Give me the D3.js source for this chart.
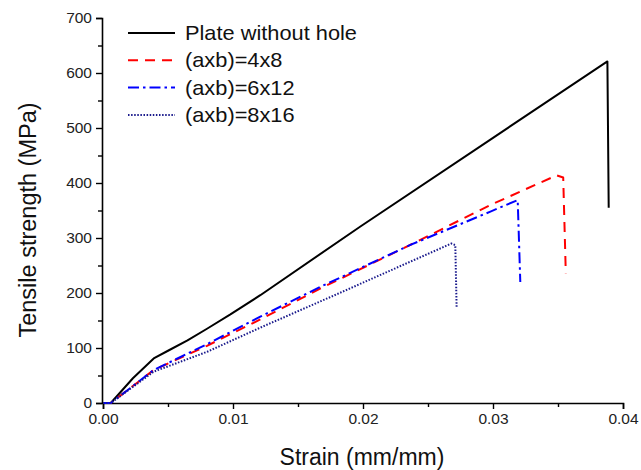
<!DOCTYPE html>
<html><head><meta charset="utf-8">
<script src="https://cdn.jsdelivr.net/npm/d3@7"></script>
<style>body{margin:0;background:#fff}svg{display:block;font-family:Arial,"Liberation Sans",sans-serif}</style>
</head><body><svg id="c" width="641" height="470"></svg>
<script>
const seriesNames = ["Plate without hole", "(axb)=4x8", "(axb)=6x12", "(axb)=8x16"];
const plateStrain = [0, 0.0006, 0.0023, 0.0039, 0.0050, 0.0065, 0.0080, 0.0098, 0.0121, 0.0198, 0.0298, 0.0388, 0.0389];
const plateStress = [0, 0, 45, 81, 95, 114, 135, 161, 196, 321, 479, 621, 355];
const h48Strain = [0, 0.0006, 0.0039, 0.0080, 0.0121, 0.0167, 0.0236, 0.0298, 0.0349, 0.0354, 0.0356];
const h48Stress = [0, 0, 60, 104, 152, 208, 287, 360, 414, 410, 236];
const h612Strain = [0, 0.0006, 0.0039, 0.0080, 0.0121, 0.0167, 0.0236, 0.0298, 0.0319, 0.0321];
const h612Stress = [0, 0, 60, 107, 157, 211, 287, 348, 369, 220];
const h816Strain = [0, 0.0006, 0.0039, 0.0080, 0.0121, 0.0182, 0.0268, 0.0271, 0.0272];
const h816Stress = [0, 0, 57, 93, 137, 200, 290, 287, 175];
const xTicks = [0, 0.01, 0.02, 0.03, 0.04];
const yTicks = [0, 100, 200, 300, 400, 500, 600, 700];

const styles = [
  {color: "#000", dash: null, w: 2},
  {color: "#ff0000", dash: "10,7", w: 2},
  {color: "#0000ff", dash: "11,4,2.5,4", w: 2},
  {color: "#1a1a8c", dash: "1.5,1.6", w: 2}
];
const series = [
  [plateStrain, plateStress], [h48Strain, h48Stress], [h612Strain, h612Stress], [h816Strain, h816Stress]
];

const svg = d3.select("#c");
const x = d3.scaleLinear().domain([0, 0.04]).range([103, 623]);
const y = d3.scaleLinear().domain([0, 700]).range([403, 18]);

// axes
const gx = svg.append("g").attr("transform", "translate(0,403)");
gx.call(d3.axisBottom(x).tickValues(xTicks).tickFormat(d3.format(".2f")).tickSize(6).tickPadding(4));
gx.append("g").call(d3.axisBottom(x).tickValues(d3.range(0.005, 0.04, 0.01)).tickFormat("").tickSize(4))
  .select(".domain").remove();
const gy = svg.append("g").attr("transform", "translate(102,0)");
gy.call(d3.axisLeft(y).tickValues(yTicks).tickFormat(d3.format("d")).tickSize(6).tickPadding(4));
gy.append("g").call(d3.axisLeft(y).tickValues(d3.range(50, 700, 100)).tickFormat("").tickSize(4))
  .select(".domain").remove();
svg.selectAll(".domain").attr("stroke-width", 1.6).attr("stroke", "#000");
svg.selectAll(".tick line").attr("stroke-width", 1.4).attr("stroke", "#000");
svg.selectAll(".tick text").attr("font-size", 15.5).attr("fill", "#222").style("font-family", "Arial, 'Liberation Sans', sans-serif");

// lines
const line = d3.line().x(d => x(d[0])).y(d => y(d[1]));
series.forEach((s, i) => {
  const pts = s[0].map((v, j) => [v, s[1][j]]);
  svg.append("path").datum(pts).attr("d", line).attr("fill", "none")
    .attr("stroke", styles[i].color).attr("stroke-width", styles[i].w)
    .attr("stroke-dasharray", styles[i].dash).attr("stroke-linejoin", "round");
});

// legend
const leg = svg.append("g");
seriesNames.forEach((n, i) => {
  const yy = 33 + i * 27.3;
  leg.append("line").attr("x1", 128).attr("x2", 175).attr("y1", yy).attr("y2", yy)
    .attr("stroke", styles[i].color).attr("stroke-width", styles[i].w).attr("stroke-dasharray", styles[i].dash);
  leg.append("text").attr("transform", `translate(185,${yy + 7}) scale(1.09,1)`)
    .attr("font-size", 20).attr("fill", "#111").text(n);
});

// titles
svg.append("text").attr("x", 362).attr("y", 465).attr("text-anchor", "middle").attr("font-size", 23).attr("fill", "#111").text("Strain (mm/mm)");
svg.append("text").attr("transform", "translate(36,220) rotate(-90)").attr("text-anchor", "middle").attr("font-size", 23.5).attr("fill", "#111").text("Tensile strength (MPa)");
</script></body></html>
